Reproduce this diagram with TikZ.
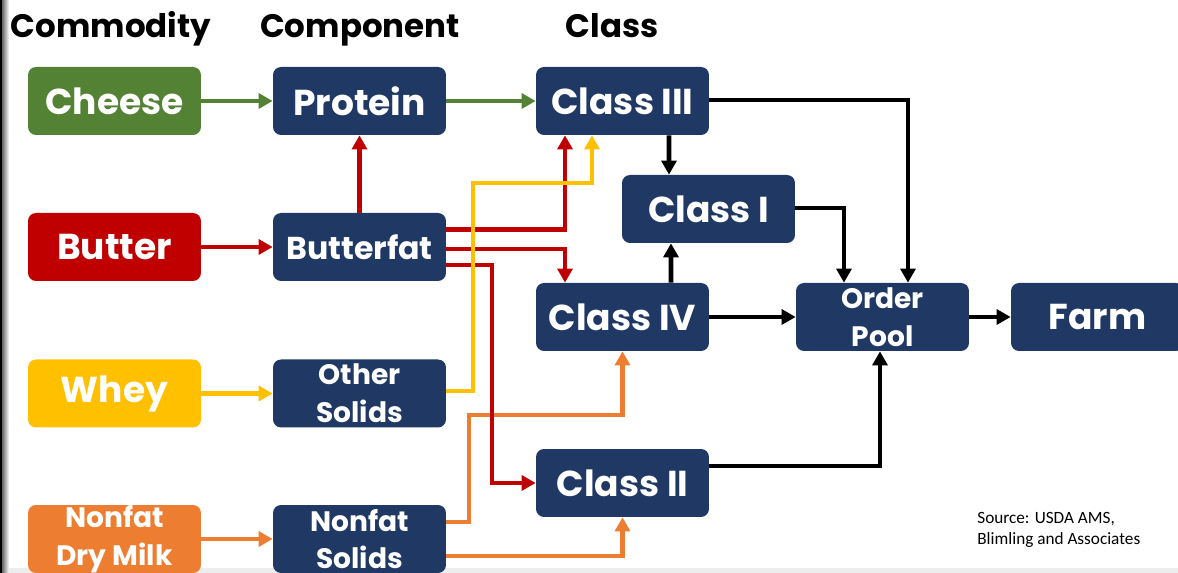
\documentclass[tikz,border=0pt]{standalone}
\usepackage{fontspec}
\setmainfont{Poppins}
\newfontfamily\srcfont{Carlito}
\usetikzlibrary{arrows.meta,calc}
\definecolor{navy}{HTML}{203864}
\definecolor{cheesegreen}{HTML}{548235}
\definecolor{butterred}{HTML}{C00000}
\definecolor{wheyyellow}{HTML}{FFC000}
\definecolor{milkorange}{HTML}{ED7D31}
\tikzset{
    blk/.style={
        rectangle,rounded corners=0.16cm,fill=navy,text=white,
        minimum width=3.46cm,minimum height=1.36cm,inner sep=0pt,
        align=center,font=\bfseries\fontsize{20.5}{24}\selectfont
    },
    twoline/.style={font=\bfseries\fontsize{16}{21.5}\selectfont},
    hdr/.style={anchor=base,font=\bfseries\fontsize{18.5}{20}\selectfont},
    flow/.style={line width=2.3pt,-{Triangle[length=8pt,width=8.5pt]}},
    pay/.style={flow,line width=2.7pt,draw=black}
}
\begin{document}
\begin{tikzpicture}[x=0.02cm,y=-0.02cm]
    \clip (0,0) rectangle (1178,573);
    \fill[black!7] (0,568) rectangle (1178,573);
    \fill[black] (0,0) rectangle (2,573);
    \shade[left color=black!60,right color=white] (2,0) rectangle (9,573);
    \node[hdr] at (111,38) {Commodity};
    \node[hdr] at (360,38) {Component};
    \node[hdr] at (612,38) {Class};
    \foreach \nm/\txt/\col/\y/\sty in {cheese/Cheese/cheesegreen/101/blk,
        butter/Butter/butterred/247/blk,whey/Whey/wheyyellow/393.5/blk,
        drymilk/{Nonfat\\Dry Milk}/milkorange/539/twoline} {
        \node[blk,\sty,fill=\col] (\nm) at (114.5,\y) {\txt};
    }
    \node[blk] (protein) at (359.5,101) {Protein};
    \node[blk,font=\bfseries\fontsize{18}{20}\selectfont] (butterfat) at (359.5,247) {Butterfat};
    \node[blk,twoline] (othersol) at (359.5,393.5) {Other\\Solids};
    \node[blk,twoline] (nonfatsol) at (359.5,539) {Nonfat\\Solids};
    \node[blk] (class3) at (622.5,101) {Class III};
    \node[blk] (class1) at (708.5,209) {Class I};
    \node[blk] (class4) at (622.5,317) {Class IV};
    \node[blk] (class2) at (622.5,483) {Class II};
    \node[blk,twoline] (pool) at (882.5,317) {Order\\Pool};
    \node[blk] (farm) at (1097.5,317) {Farm};
    \node[anchor=base west,align=left,inner sep=0pt,font=\srcfont\fontsize{9.8}{12.5}\selectfont] (src) at (977,545) {Source: USDA AMS,\\Blimling and Associates};
    % commodities into components
    \draw[flow,cheesegreen] (cheese) -- (protein);
    \draw[flow,cheesegreen] (protein) -- (class3);
    \draw[flow,butterred] (butter) -- (butterfat);
    \draw[flow,butterred] (butterfat) -- (protein);
    \draw[flow,wheyyellow] (whey) -- (othersol);
    \draw[flow,milkorange] (drymilk) -- (nonfatsol);
    % components into classes
    \draw[flow,milkorange] ($(nonfatsol.east)+(0,-17)$) -| ($(class4.south)+(-153.5,64)$) -| (class4.south);
    \draw[flow,milkorange] ($(nonfatsol.east)+(0,17)$) -| (class2.south);
    \draw[flow,butterred] ($(butterfat.east)+(0,-17.5)$) -| ($(class3.south)+(-57.5,0)$);
    \draw[flow,butterred] ($(butterfat.east)+(0,2)$) -| ($(class4.north)+(-57.5,0)$);
    \draw[flow,butterred] ($(butterfat.east)+(0,18)$) -| ($(class2.west)+(-44,0)$) -- (class2.west);
    \draw[flow,wheyyellow] ($(othersol.east)+(0,-2.5)$) -| ($(class3.south)+(-149.5,48)$) -| ($(class3.south)+(-30.5,0)$);
    % classes into the pool
    \draw[pay] ($(class3.south)+(46.5,0)$) -- ($(class1.north)+(-39.5,0)$);
    \draw[pay] ($(class4.north)+(48.5,0)$) -- ($(class1.south)+(-37.5,0)$);
    \draw[pay] ($(class3.east)+(0,-1)$) -| ($(pool.north)+(25.5,0)$);
    \draw[pay] ($(class1.east)+(0,-1)$) -| ($(pool.north)+(-38.5,0)$);
    \draw[pay] (class4) -- (pool);
    \draw[pay] ($(class2.east)+(0,-17)$) -| ($(pool.south)+(-2.5,0)$);
    \draw[pay] (pool) -- (farm);
\end{tikzpicture}
\end{document}
